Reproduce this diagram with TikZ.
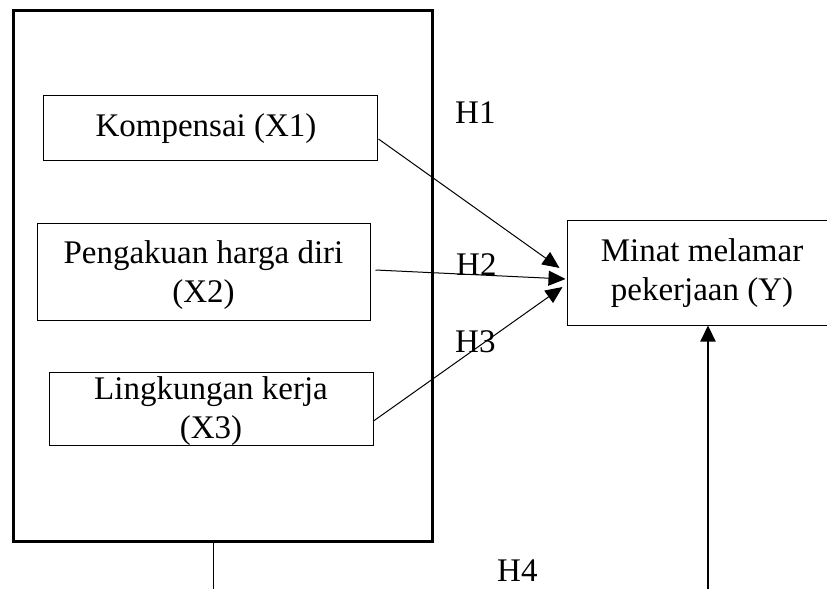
\documentclass[tikz,border=0pt]{standalone}
\usepackage{fontspec}
\setmainfont{Liberation Serif}
\usetikzlibrary{arrows.meta}
\begin{document}
\begin{tikzpicture}[x=1pt,y=-1pt,
  txt/.style={font=\fontsize{33}{39}\selectfont, align=center, inner sep=0pt},
  varbox/.style={draw, line width=1pt, minimum width=#1, inner sep=0pt},
  hlabel/.style={font=\fontsize{33}{39}\selectfont, inner sep=0pt, anchor=base west},
  thinarrow/.style={line width=1pt, -{Triangle[length=17pt,width=15pt]}},
  thickarrow/.style={line width=2.2pt, -{Triangle[length=16pt,width=15pt]}}]
\path[use as bounding box, clip] (0,0) rectangle (827,589);
\fill[white] (0,0) rectangle (827,589);
% big frame
\node[draw, line width=3pt, minimum width=419pt, minimum height=531pt, inner sep=0pt] (frame) at (222.5,275.5) {};
% variable boxes
\node[varbox=334pt, minimum height=65pt, label={[txt, xshift=-4pt, yshift=-1pt]center:Kompensai (X1)}] (k) at (210,127.5) {};
\node[varbox=333pt, minimum height=97pt, label={[txt, yshift=-4pt]center:Pengakuan harga diri\\(X2)}] (p) at (203.5,271.5) {};
\node[varbox=324pt, minimum height=73pt, label={[txt, yshift=-3pt]center:Lingkungan kerja\\(X3)}] (l) at (211,408.5) {};
\node[varbox=270pt, minimum height=105pt, label={[txt, yshift=-1pt]center:Minat melamar\\pekerjaan (Y)}] (y) at (702,272.5) {};
% labels
\node[hlabel] (h1) at (455,123) {H1};
\node[hlabel] (h2) at (456,275) {H2};
\node[hlabel] (h3) at (455,352) {H3};
\node[hlabel] (h4) at (497,581) {H4};
% arrows
\draw[thinarrow] ([xshift=1pt,yshift=-11.5pt]k.east) -- ([xshift=-7pt,yshift=4.5pt]y.west);
\draw[thinarrow] ([xshift=5pt,yshift=1.5pt]p.east) -- ([xshift=-1pt,yshift=-6.5pt]y.west);
\draw[thinarrow] ([yshift=-12.5pt]l.east) -- ([xshift=-4pt,yshift=-14.5pt]y.west);
% bottom lines
\coordinate (b1) at (213,589);
\coordinate (b2) at (708,589);
\draw[line width=1pt] (frame.south -| b1) -- (b1);
\draw[thickarrow] (b2) -- (y.south -| b2);
\end{tikzpicture}
\end{document}
